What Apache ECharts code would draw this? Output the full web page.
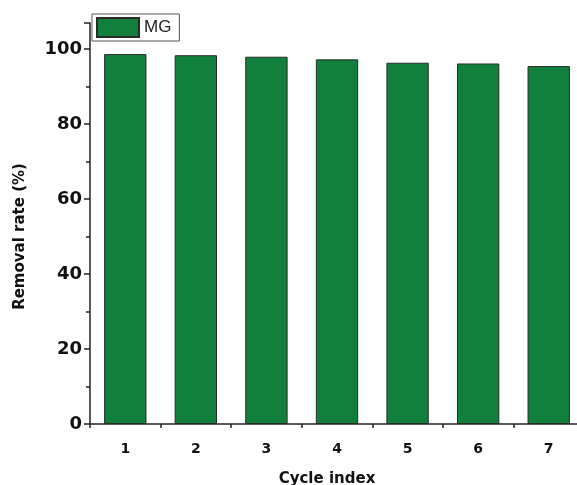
<!DOCTYPE html>
<html>
<head>
<meta charset="utf-8">
<script src="https://cdn.jsdelivr.net/npm/echarts@6/dist/echarts.min.js"></script>
<style>
  html, body { margin: 0; padding: 0; background: #ffffff; }
  #chart { width: 577px; height: 485px; }
</style>
</head>
<body>
<div id="chart"></div>
<script>
// cycle index on x, removal rate (%) on y
const cycles = ['1', '2', '3', '4', '5', '6', '7'];
const removalRate = [98.7, 98.4, 98.0, 97.3, 96.4, 96.2, 95.5];
const seriesName = 'MG';

const chart = echarts.init(document.getElementById('chart'));
const font = '"Liberation Sans", Arial, sans-serif';
const boldFont = '"DejaVu Sans", sans-serif';

const option = {
    animation: false,
    backgroundColor: '#ffffff',
    textStyle: { fontFamily: font },
    grid: {
        left: 90,
        top: 23,
        width: 494,
        height: 401,
        outerBoundsMode: 'none',
        containLabel: false,
    },
    legend: {
        left: 92,
        top: 14,
        padding: [3, 8, 3, 4],
        icon: 'rect',
        itemWidth: 42,
        itemHeight: 19,
        itemGap: 6,
        borderColor: '#555555',
        borderWidth: 1,
        textStyle: { fontFamily: font, fontSize: 17, color: '#222222' },
        data: [seriesName],
    },
    xAxis: [
        {
            type: 'category',
            data: cycles,
            name: 'Cycle index',
            nameLocation: 'middle',
            nameGap: 48,
            nameTextStyle: { fontFamily: boldFont, fontSize: 15, fontWeight: 'bold', color: '#111111',
                padding: [0, 20, 0, 0] },
            axisLine: { lineStyle: { color: '#222222', width: 1.5 } },
            axisTick: { alignWithLabel: true, length: 7, lineStyle: { color: '#222222', width: 1.5 } },
            axisLabel: { fontFamily: boldFont, fontSize: 14, fontWeight: 'bold', color: '#111111', margin: 18 },
        },
        {
            // short ticks between the categories
            type: 'value',
            min: 0,
            max: 7,
            interval: 1,
            position: 'bottom',
            axisLine: { show: false },
            axisTick: { show: true, length: 4, lineStyle: { color: '#222222', width: 1.5 } },
            axisLabel: { show: false },
            splitLine: { show: false },
        },
    ],
    yAxis: {
        type: 'value',
        min: 0,
        max: 107,
        interval: 20,
        name: 'Removal rate (%)',
        nameLocation: 'middle',
        nameGap: 62,
        nameTextStyle: { fontFamily: boldFont, fontSize: 15, fontWeight: 'bold', color: '#111111',
            padding: [0, 26, 0, 0] },
        axisLine: { show: true, lineStyle: { color: '#222222', width: 1.5 } },
        axisTick: { show: true, length: 6, lineStyle: { color: '#222222', width: 1.5 } },
        minorTick: { show: true, splitNumber: 2, length: 4, lineStyle: { color: '#222222', width: 1.5 } },
        axisLabel: { fontFamily: boldFont, fontSize: 18, fontWeight: 'bold', color: '#111111', margin: 8,
            showMaxLabel: false },
        splitLine: { show: false },
    },
    series: [
        {
            name: seriesName,
            type: 'bar',
            data: removalRate,
            barWidth: '60%',
            itemStyle: {
                color: '#10803c',
                borderColor: '#2a2a2a',
                borderWidth: 1,
            },
        },
    ],
};

chart.setOption(option);
</script>
</body>
</html>
